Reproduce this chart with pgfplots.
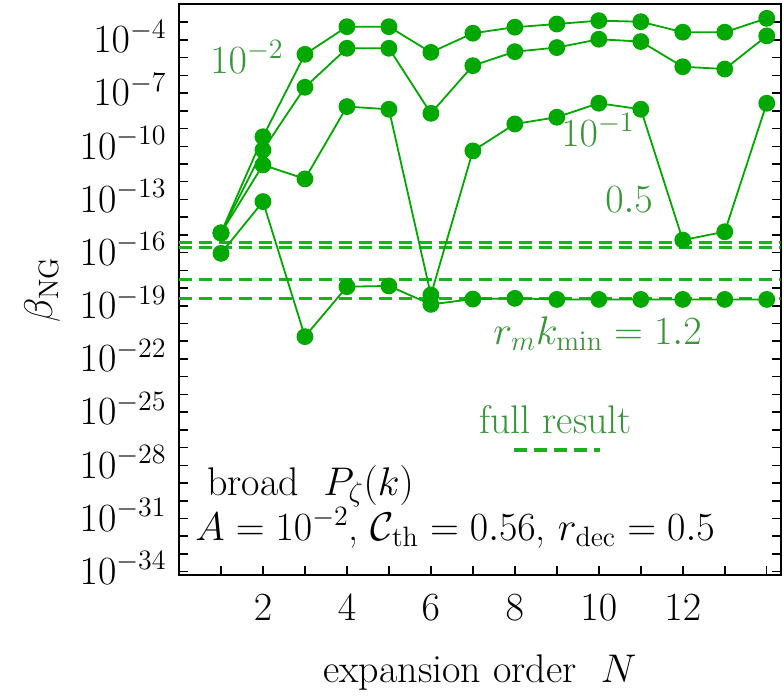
\RequirePackage{fix-cm}
\documentclass[border=0pt]{standalone}
\usepackage{pgfplots}
\pgfplotsset{compat=1.18}
\definecolor{mg}{RGB}{0,168,0}
\definecolor{tg}{RGB}{56,150,56}
\definecolor{dg}{RGB}{26,178,26}
\newcommand{\fs}{\fontsize{20}{24}\selectfont}
\begin{document}
\begin{tikzpicture}
\begin{axis}[
  at={(0,0)}, anchor=south west,
  scale only axis, width=300.8pt, height=285.5pt,
  xmin=0, xmax=14.33,
  ymode=log, ymin=6.46e-35, ymax=1.07e-2,
  xtick={2,4,6,8,10,12}, minor xtick={1,3,5,7,9,11,13,14},
  ytick={1e-4,1e-7,1e-10,1e-13,1e-16,1e-19,1e-22,1e-25,1e-28,1e-31,1e-34},
  minor ytick={1e-3,1e-5,1e-6,1e-8,1e-9,1e-11,1e-12,1e-14,1e-15,1e-17,1e-18,1e-20,1e-21,1e-23,1e-24,1e-26,1e-27,1e-29,1e-30,1e-32,1e-33},
  major tick length=4.5pt, minor tick length=4.5pt,
  xtick pos=left,
  every tick/.style={black, line width=0.75pt},
  every minor tick/.style={black, line width=0.75pt},
  axis line style={line width=1pt},
  tick label style={font=\fs},
  yticklabel style={anchor=base east, inner sep=0pt, xshift=-6pt, yshift=-6.4pt},
  xticklabel style={anchor=base, inner sep=0pt, yshift=-22.5pt},
  xlabel={expansion order~~$N$},
  ylabel={$\beta_{\mathrm{NG}}$},
  every axis x label/.style={at={(axis description cs:0.5,0)}, anchor=base, yshift=-53.5pt, font=\fs, inner sep=0pt},
  every axis y label/.style={at={(axis description cs:-0.2277,0.5)}, anchor=center, rotate=90, font=\fs, inner sep=0pt},
  series/.style={mg, line width=0.9pt, mark=*, mark size=3.75pt, mark options={solid, fill=mg}},
  fullres/.style={dg, line width=1.7pt, dash pattern=on 6.5pt off 3.5pt, forget plot},
]
% full results (dashed)
\addplot[fullres] coordinates {(0,3.63e-16) (14.33,3.63e-16)};
\addplot[fullres] coordinates {(0,1.91e-16) (14.33,1.91e-16)};
\addplot[fullres] coordinates {(0,3.16e-18) (14.33,3.16e-18)};
\addplot[fullres] coordinates {(0,2.63e-19) (14.33,2.63e-19)};
% legend sample
\addplot[fullres] coordinates {(7.97,7.2e-28) (10.02,7.2e-28)};

% series 1 (10^-2)
\addplot[series] coordinates {
 (1,1.29e-15) (2,3.47e-10) (3,1.55e-5) (4,5.62e-4) (5,5.62e-4) (6,2.0e-5) (7,2.40e-4)
 (8,5.25e-4) (9,7.94e-4) (10,1.23e-3) (11,1.07e-3) (12,2.75e-4) (13,2.75e-4) (14,1.66e-3)};
% series 2 (10^-1)
\addplot[series] coordinates {
 (1,1.29e-15) (2,6.17e-11) (3,2.14e-7) (4,3.39e-5) (5,3.39e-5) (6,7.24e-9) (7,3.55e-6)
 (8,2.19e-5) (9,3.72e-5) (10,1.10e-4) (11,8.13e-5) (12,3.09e-6) (13,2.29e-6) (14,1.70e-4)};
% series 3 (0.5)
\addplot[series] coordinates {
 (1,1.29e-15) (2,8.91e-12) (3,1.45e-12) (4,1.74e-8) (5,1.23e-8) (6,4.07e-19) (7,5.50e-11)
 (8,1.82e-9) (9,4.37e-9) (10,2.69e-8) (11,1.23e-8) (12,5.13e-16) (13,1.51e-15) (14,2.69e-8)};
% series 4 (1.2)
\addplot[series] coordinates {
 (1,9.12e-17) (2,7.59e-14) (3,1.82e-21) (4,1.20e-18) (5,1.32e-18) (6,1.20e-19) (7,2.40e-19)
 (8,2.63e-19) (9,2.29e-19) (10,2.29e-19) (11,2.29e-19) (12,2.29e-19) (13,2.29e-19) (14,2.29e-19)};

\node[tg, font=\fs, inner sep=0pt] at (axis cs:1.62,1.1e-5) {$10^{-2}$};
\node[tg, font=\fs, inner sep=0pt] at (axis cs:9.98,8.3e-10) {$10^{-1}$};
\node[tg, font=\fs, inner sep=0pt] at (axis cs:10.72,9.3e-14) {$0.5$};
\node[tg, font=\fs, inner sep=0pt, anchor=base] at (axis cs:9.97,6.2e-22) {$r_m k_{\min}=1.2$};
\node[tg, font=\fs, inner sep=0pt, anchor=base] at (axis cs:8.97,6.6e-27) {full result};
\node[black, font=\fs, inner sep=0pt, anchor=base west] at (axis cs:0.667,2.1e-30) {broad~~$P_\zeta(k)$};
\node[black, font=\fs, inner sep=0pt, anchor=base west] at (axis cs:0.38,6.0e-33) {$A=10^{-2}$, $\mathcal{C}_{\mathrm{th}}=0.56$, $r_{\mathrm{dec}}=0.5$};
\end{axis}
\pgfresetboundingbox
\path[use as bounding box] (-89.5pt,-61pt) rectangle (302.5pt,287.5pt);
\end{tikzpicture}
\end{document}
